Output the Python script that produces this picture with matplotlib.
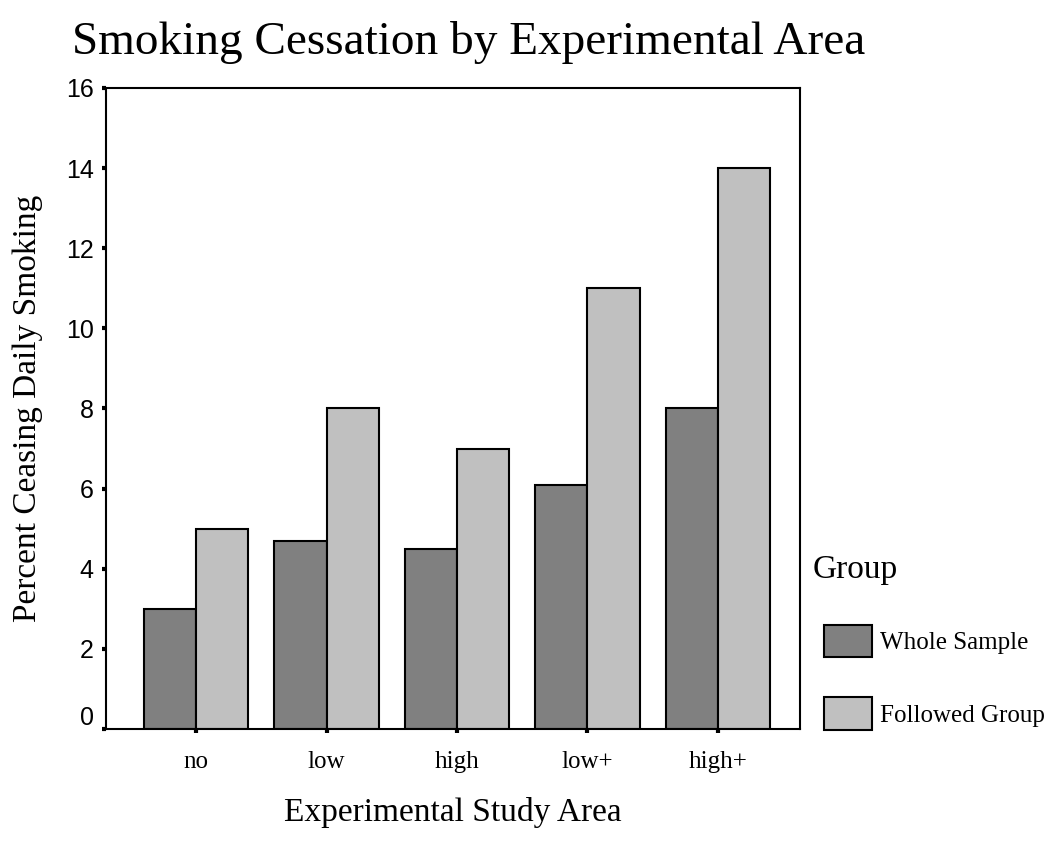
import matplotlib.pyplot as plt
import numpy as np

areas = ['no', 'low', 'high', 'low+', 'high+']
whole_sample = [3.0, 4.7, 4.5, 6.1, 8.0]
followed_group = [5.0, 8.0, 7.0, 11.0, 14.0]
y_ticks = [0, 2, 4, 6, 8, 10, 12, 14, 16]

serif = 'Liberation Serif'
sans = 'Liberation Sans'

fig = plt.figure(figsize=(10.52, 8.55), dpi=100)
ax = fig.add_axes([0.1008, 0.1474, 0.6597, 0.7497])

x = np.arange(len(areas))
w = 0.40
ax.bar(x - w / 2, whole_sample, w, color='#808080', edgecolor='black',
       linewidth=1.5, label='Whole Sample')
ax.bar(x + w / 2, followed_group, w, color='#c0c0c0', edgecolor='black',
       linewidth=1.5, label='Followed Group')

ax.set_xlim(-0.69, 4.63)
ax.set_ylim(0, 16)
ax.set_yticks(y_ticks)
# the "0" label sits a little above its tick in the original, so draw it by hand
ax.set_yticklabels([''] + [str(t) for t in y_ticks[1:]], fontfamily=sans, fontsize=18)
ax.annotate(str(y_ticks[0]), xy=(0, y_ticks[0]), xycoords=('axes fraction', 'data'),
            xytext=(-9, 8), textcoords='offset points', ha='right', va='center',
            fontfamily=sans, fontsize=18)
ax.set_xticks(x)
ax.set_xticklabels(areas, fontfamily=serif, fontsize=18)
ax.tick_params(axis='y', direction='out', length=3, width=3, pad=6)
ax.tick_params(axis='x', direction='out', length=3, width=3, pad=13)
for s in ax.spines.values():
    s.set_linewidth(1.5)

ax.set_ylabel('Percent Ceasing Daily Smoking', fontfamily=serif, fontsize=24, labelpad=16)
ax.set_xlabel('Experimental Study Area', fontfamily=serif, fontsize=24, labelpad=17)
fig.text(0.068, 0.975, 'Smoking Cessation by Experimental Area',
         fontfamily=serif, fontsize=34, va='top', ha='left')

fig.text(0.7728, 0.3333, 'Group', fontfamily=serif, fontsize=24,
         va='center', ha='left')
ax.legend(loc='upper left', bbox_to_anchor=(0.771, 0.284),
          bbox_transform=fig.transFigure, frameon=False,
          prop={'family': serif, 'size': 18},
          handlelength=1.92, handleheight=1.64, labelspacing=1.58,
          handletextpad=0.35, borderpad=0)

fig.savefig('out.png', dpi=100)
